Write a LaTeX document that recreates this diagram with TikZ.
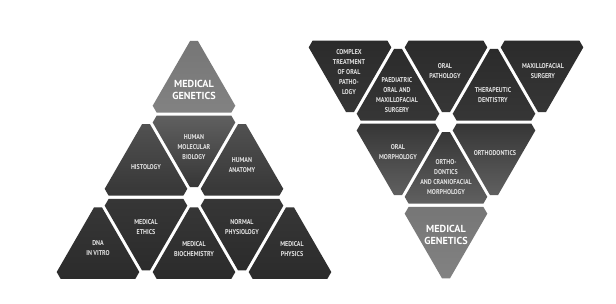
\documentclass[tikz,border=0pt]{standalone}
\usepackage{fontspec}
\setmainfont{PT Sans}
\newfontfamily\lblfont[FakeStretch=0.86]{PT Sans}
\def\trS{96}
\def\trH{83.14}
\def\trd{1.6}
\def\trr{10}
\def\trq{1.7320508}
\pgfmathsetmacro\trt{2*(\trr-2*\trd)/\trq}
% upright tile: #1 apex x, #2 apex y (lattice), #3 top colour, #4 bottom colour
\newcommand\uptile[4]{%
  \path[top color=#3,bottom color=#4]
  ({#1-\trt/2},{#2+\trr}) -- ({#1+\trt/2},{#2+\trr})
  -- ({#1+\trS/2-\trq*\trd-\trt/2},{#2+\trH-\trd-\trt*\trq/2})
  -- ({#1+\trS/2-\trq*\trd-\trt},{#2+\trH-\trd})
  -- ({#1-\trS/2+\trq*\trd+\trt},{#2+\trH-\trd})
  -- ({#1-\trS/2+\trq*\trd+\trt/2},{#2+\trH-\trd-\trt*\trq/2}) -- cycle;}
% inverted tile: #1 centre x, #2 top edge y (lattice)
\newcommand\dntile[4]{%
  \path[top color=#3,bottom color=#4]
  ({#1-\trt/2},{#2+\trH-\trr}) -- ({#1+\trt/2},{#2+\trH-\trr})
  -- ({#1+\trS/2-\trq*\trd-\trt/2},{#2+\trd+\trt*\trq/2})
  -- ({#1+\trS/2-\trq*\trd-\trt},{#2+\trd})
  -- ({#1-\trS/2+\trq*\trd+\trt},{#2+\trd})
  -- ({#1-\trS/2+\trq*\trd+\trt/2},{#2+\trd+\trt*\trq/2}) -- cycle;}
\definecolor{gentop}{HTML}{767676}
\definecolor{genbot}{HTML}{828282}
\definecolor{dkA}{HTML}{2B2B2B}
\definecolor{dkB}{HTML}{363636}
\definecolor{dkC}{HTML}{515151}
\definecolor{dkD}{HTML}{606060}
\definecolor{lbltext}{HTML}{E2E2E2}
\tikzset{
  lbl/.style={text=lbltext,align=center,inner sep=0pt,font=\lblfont\bfseries\fontsize{7}{9.9}\selectfont},
  biglbl/.style={text=white,align=center,inner sep=0pt,font=\fontsize{10.2}{11.8}\selectfont\bfseries}
}
\begin{document}
\begin{tikzpicture}[x=1pt,y=-1pt]
\useasboundingbox[fill=white] (0,0) rectangle (616,304);
% ---------- left pyramid ----------
\uptile{194}{31}{gentop}{genbot}
\uptile{146}{114.1}{dkC}{dkB}
\dntile{194}{114.1}{dkD}{dkB}
\uptile{242}{114.1}{dkC}{dkB}
\uptile{98}{197.3}{dkB}{dkA}
\dntile{146}{197.3}{dkB}{dkA}
\uptile{194}{197.3}{dkB}{dkA}
\dntile{242}{197.3}{dkB}{dkA}
\uptile{290}{197.3}{dkB}{dkA}
\node[biglbl] (lgen) at (194,90) {MEDICAL\\GENETICS};
\node[lbl] (hist) at (146,167) {HISTOLOGY};
\node[lbl] (hmb) at (194,147) {HUMAN\\MOLECULAR\\BIOLOGY};
\node[lbl] (hana) at (242,165) {HUMAN\\ANATOMY};
\node[lbl] (dna) at (98,248) {DNA\\IN VITRO};
\node[lbl] (meth) at (146,227) {MEDICAL\\ETHICS};
\node[lbl] (mbio) at (194,249) {MEDICAL\\BIOCHEMISTRY};
\node[lbl] (nphy) at (242,227) {NORMAL\\PHYSIOLOGY};
\node[lbl] (mphy) at (292,249) {MEDICAL\\PHYSICS};
% ---------- right pyramid ----------
\dntile{350}{39}{dkA}{dkB}
\uptile{398}{39}{dkA}{dkB}
\dntile{446}{39}{dkA}{dkB}
\uptile{494}{39}{dkA}{dkB}
\dntile{542}{39}{dkA}{dkB}
\dntile{398}{122.1}{dkB}{dkD}
\uptile{446}{122.1}{dkB}{dkD}
\dntile{494}{122.1}{dkB}{dkD}
\dntile{446}{205.3}{gentop}{genbot}
\node[lbl] (ctop) at (349,72) {COMPLEX\\TREATMENT\\OF ORAL\\PATHO-\\LOGY};
\node[lbl] (pom) at (397,95) {PAEDIATRIC\\ORAL AND\\MAXILLOFACIAL\\SURGERY};
\node[lbl] (opa) at (445,71) {ORAL\\PATHOLOGY};
\node[lbl] (tde) at (493,95) {THERAPEUTIC\\DENTISTRY};
\node[lbl] (mfs) at (543,71) {MAXILLOFACIAL\\SURGERY};
\node[lbl] (omo) at (398,152) {ORAL\\MORPHOLOGY};
\node[lbl] (ocm) at (446,177) {ORTHO-\\DONTICS\\AND CRANIOFACIAL\\MORPHOLOGY};
\node[lbl] (ort) at (495,153) {ORTHODONTICS};
\node[biglbl] (rgen) at (446,235) {MEDICAL\\GENETICS};
\end{tikzpicture}
\end{document}
